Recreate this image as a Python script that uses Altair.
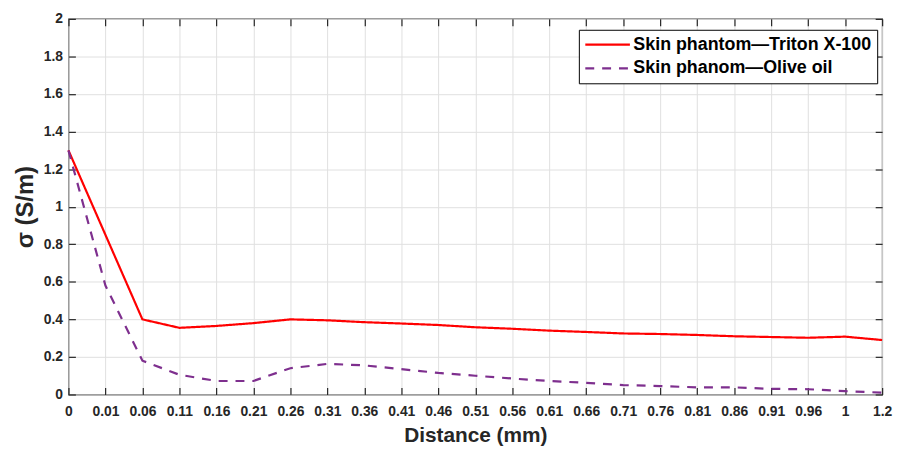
import altair as alt
import pandas as pd

# ---- data ----
distance = ["0", "0.01", "0.06", "0.11", "0.16", "0.21", "0.26", "0.31", "0.36", "0.41",
            "0.46", "0.51", "0.56", "0.61", "0.66", "0.71", "0.76", "0.81", "0.86", "0.91",
            "0.96", "1", "1.2"]
triton = [1.30, 0.85, 0.40, 0.355, 0.365, 0.38, 0.40, 0.395, 0.385, 0.378,
          0.37, 0.358, 0.35, 0.34, 0.333, 0.325, 0.322, 0.317, 0.31, 0.306,
          0.302, 0.308, 0.29]
olive = [1.30, 0.58, 0.18, 0.105, 0.072, 0.072, 0.14, 0.163, 0.155, 0.135,
         0.115, 0.10, 0.085, 0.072, 0.062, 0.05, 0.045, 0.038, 0.038, 0.03,
         0.028, 0.018, 0.01]
series_names = ["Skin phantom\u2014Triton X-100", "Skin phanom\u2014Olive oil"]
y_ticks = [0, 0.2, 0.4, 0.6, 0.8, 1.0, 1.2, 1.4, 1.6, 1.8, 2.0]

rows = []
for d, t, o in zip(distance, triton, olive):
    rows.append({"dist": d, "sigma": t, "series": series_names[0]})
    rows.append({"dist": d, "sigma": o, "series": series_names[1]})
df = pd.DataFrame(rows)

W, H = 821, 379
FONT = "Liberation Sans"
INK = "#262626"

xscale = alt.Scale(type="point", padding=0)
yscale = alt.Scale(domain=[0, 2], nice=False)

legend = alt.Legend(title=None, orient="none", legendX=515, legendY=11,
                    labelFont=FONT, labelFontSize=18, labelFontWeight="bold",
                    labelColor="#000000", labelLimit=500, symbolSize=2025, symbolStrokeWidth=2.2,
                    symbolType="stroke", strokeColor="#000000", fillColor="white",
                    padding=5, rowPadding=4, labelOffset=2, cornerRadius=0, clipHeight=20)
color = alt.Color("series:N", sort=series_names,
                  scale=alt.Scale(domain=series_names, range=["#ff0000", "#7e2f8e"]),
                  legend=legend)
dash = alt.StrokeDash("series:N", sort=series_names,
                      scale=alt.Scale(domain=series_names, range=[[1, 0], [9, 8]]),
                      legend=legend)

x_main = alt.X("dist:N", sort=distance, scale=xscale,
               axis=alt.Axis(title="Distance (mm)", labelAngle=0, labelFont=FONT, labelFontSize=14,
                             labelFontWeight="bold", labelColor=INK, labelPadding=10, tickSize=0,
                             domain=False, grid=True, gridColor="#e0e0e0", titleFont=FONT,
                             titleFontSize=21, titleFontWeight="bold", titleColor=INK, titlePadding=6))
y_main = alt.Y("sigma:Q", scale=yscale,
               axis=alt.Axis(title="\u03c3 (S/m)", values=y_ticks, format="~g", labelFont=FONT,
                             labelFontSize=14, labelFontWeight="bold", labelColor=INK, labelPadding=6,
                             tickSize=0, domain=False, grid=True, gridColor="#e0e0e0",
                             titleFont=FONT, titleFontSize=24, titleFontWeight="bold",
                             titleColor=INK, titlePadding=6))

base = alt.Chart(df)

lines = base.mark_line(strokeWidth=2.2).encode(x=x_main, y=y_main, color=color, strokeDash=dash)


def inner_axis(orient, offset, values=None):
    kw = dict(orient=orient, offset=offset, labels=False, domain=False, grid=False, title=None,
              tickSize=7, tickColor=INK, tickWidth=1.2)
    if values is not None:
        kw["values"] = values
    return alt.Axis(**kw)


ticks_a = base.mark_line(opacity=0).encode(
    x=alt.X("dist:N", sort=distance, scale=xscale, axis=inner_axis("top", -H)),
    y=alt.Y("sigma:Q", scale=yscale, axis=inner_axis("right", -W, y_ticks)),
    detail="series:N")
ticks_b = base.mark_line(opacity=0).encode(
    x=alt.X("dist:N", sort=distance, scale=xscale, axis=inner_axis("bottom", -H)),
    y=alt.Y("sigma:Q", scale=yscale, axis=inner_axis("left", -W, y_ticks)),
    detail="series:N")

chart = alt.layer(lines, ticks_a, ticks_b).resolve_axis(
    x="independent", y="independent"
).properties(
    width=W, height=H,
    padding={"left": 5, "top": 2, "right": 5, "bottom": 0},
    background="white",
).configure_view(stroke=INK, strokeWidth=1.2)

chart.save("out.html", embed_options={"renderer": "svg", "actions": False})
